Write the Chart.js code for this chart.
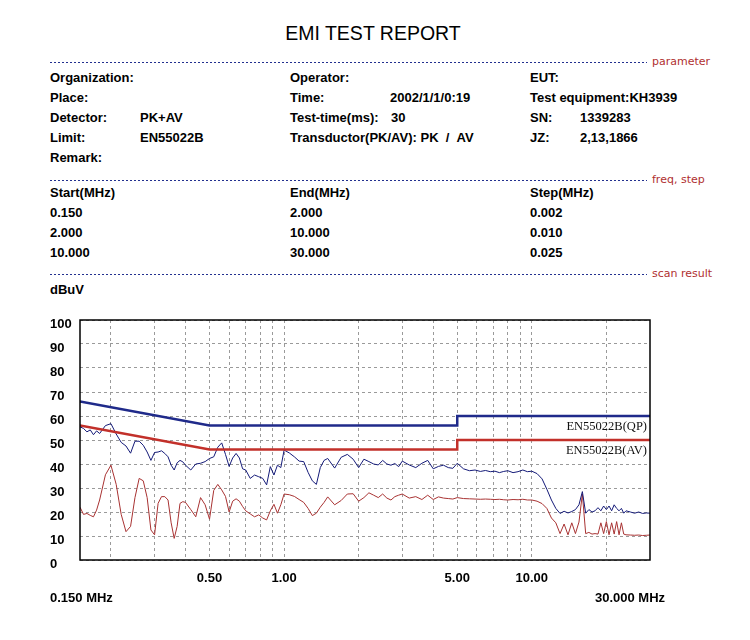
<!DOCTYPE html>
<html>
<head>
<meta charset="utf-8">
<script src="https://cdn.jsdelivr.net/npm/chart.js@4"></script>
<style>
  body { margin: 0; background: #fff; }
  #page { position: relative; width: 750px; height: 640px; overflow: hidden; }
  .t { position: absolute; font: bold 13px "Liberation Sans", Arial, sans-serif; line-height: 16px; white-space: nowrap; color: #000; }
  .title { position: absolute; left: 0; width: 746px; top: 21px; text-align: center; font: 19.5px "Liberation Sans", Arial, sans-serif; line-height: 24px; }
  .dash { position: absolute; left: 50px; width: 597px; height: 1px;
          background: repeating-linear-gradient(to right, #22308f 0 2px, transparent 2px 4px); }
  .sec { position: absolute; left: 652px; font: 11px "DejaVu Sans", sans-serif; line-height: 14px; color: #b03030; white-space: nowrap; }
  #chart { position: absolute; left: 0; top: 300px; }
</style>
</head>
<body>
<div id="page">
  <div class="title">EMI TEST REPORT</div>

  <div class="dash" style="top:62px"></div>
  <div class="sec" style="top:55px">parameter</div>

  <div class="t" style="left:50px;top:70px">Organization:</div>
  <div class="t" style="left:290px;top:70px">Operator:</div>
  <div class="t" style="left:530px;top:70px">EUT:</div>

  <div class="t" style="left:50px;top:90px">Place:</div>
  <div class="t" style="left:290px;top:90px">Time:</div>
  <div class="t" style="left:390px;top:90px">2002/1/1/0:19</div>
  <div class="t" style="left:530px;top:90px">Test equipment:KH3939</div>

  <div class="t" style="left:50px;top:110px">Detector:</div>
  <div class="t" style="left:140px;top:110px">PK+AV</div>
  <div class="t" style="left:290px;top:110px">Test-time(ms):</div>
  <div class="t" style="left:391px;top:110px">30</div>
  <div class="t" style="left:530px;top:110px">SN:</div>
  <div class="t" style="left:580px;top:110px">1339283</div>

  <div class="t" style="left:50px;top:130px">Limit:</div>
  <div class="t" style="left:140px;top:130px">EN55022B</div>
  <div class="t" style="left:290px;top:130px">Transductor(PK/AV): PK &nbsp;/ &nbsp;AV</div>
  <div class="t" style="left:530px;top:130px">JZ:</div>
  <div class="t" style="left:580px;top:130px">2,13,1866</div>

  <div class="t" style="left:50px;top:150px">Remark:</div>

  <div class="dash" style="top:180px"></div>
  <div class="sec" style="top:173px">freq, step</div>

  <div class="t" style="left:50px;top:185px">Start(MHz)</div>
  <div class="t" style="left:290px;top:185px">End(MHz)</div>
  <div class="t" style="left:530px;top:185px">Step(MHz)</div>
  <div class="t" style="left:50px;top:205px">0.150</div>
  <div class="t" style="left:290px;top:205px">2.000</div>
  <div class="t" style="left:530px;top:205px">0.002</div>
  <div class="t" style="left:50px;top:225px">2.000</div>
  <div class="t" style="left:290px;top:225px">10.000</div>
  <div class="t" style="left:530px;top:225px">0.010</div>
  <div class="t" style="left:50px;top:245px">10.000</div>
  <div class="t" style="left:290px;top:245px">30.000</div>
  <div class="t" style="left:530px;top:245px">0.025</div>

  <div class="dash" style="top:274px"></div>
  <div class="sec" style="top:267px">scan result</div>

  <div class="t" style="left:50px;top:282px">dBuV</div>

  <canvas id="chart" width="750" height="340"></canvas>

  <div class="t" style="left:50px;top:590px">0.150 MHz</div>
  <div class="t" style="left:595px;top:590px">30.000 MHz</div>
</div>

<script>
// scan frequencies (MHz)
const freqs = [0.15,0.155,0.16,0.165,0.17,0.175,0.18,
  0.19,0.2,0.21,0.22,0.23,0.24,0.25,0.26,0.27,0.28,0.29,0.3,0.31,0.32,0.33,0.34,0.35,0.36,0.37,0.38,0.39,0.4,
  0.42,0.44,0.46,0.48,0.5,0.52,0.54,0.56,0.58,0.6,0.62,0.64,0.66,0.68,0.7,
  0.73,0.76,0.79,0.82,0.85,0.88,0.91,0.94,0.97,
  1.0,1.05,1.1,1.15,1.2,1.25,1.3,1.35,1.4,1.45,1.5,
  1.6,1.7,1.8,1.9,2.0,2.1,2.2,2.3,2.4,2.5,2.6,2.7,2.8,2.9,3.0,
  3.2,3.4,3.6,3.8,4.0,4.2,4.4,4.6,4.8,5.0,
  5.3,5.6,5.9,6.2,6.5,6.8,7.1,7.4,7.7,8.0,
  8.4,8.8,9.2,9.6,
  10,10.5,11,11.5,12,12.5,13,13.5,14,14.5,15,15.5,
  16,16.5,17,17.5,18,18.5,19,19.5,20,20.5,21,21.5,22,22.5,23,23.5,
  24,25,26,27,28,29,30];

// peak trace (dBuV)
const pkValues = [55.5,54.8,53.4,54.2,52.2,53.8,52.7,
  56,56.8,52.5,49,47.5,44.5,49.5,49.5,47.8,45,41.5,44.8,45,45.5,44.4,43,39.5,37.5,40.5,41.5,40.9,39.5,
  37.5,40,40.3,41,42.3,43,47,48.8,44,39,42.5,44.4,42.5,38,37.5,
  34,35.4,34.7,34,31.3,38.9,35.4,39.5,38.5,
  45.8,44.6,43,41.2,41,36.5,33,31.5,38.5,41.5,42.3,
  38.3,42.8,44,42,38.5,42,41,40,39.6,41.5,40,39.5,40.2,38.9,41.2,
  39.6,38.5,40.3,41.5,38,39,39.5,38.5,38.2,40.3,
  38,37.2,37.5,36.9,37.3,36.8,37,36.4,36.9,37.2,
  36.4,36.8,37.5,36.8,
  37,36,33.8,29.5,25,21.5,19.4,20.3,19.6,20.2,21,23,
  28.5,19.5,21,20,20.5,21.8,20.5,22.5,21,22.5,20.5,23,21.5,20.5,21.5,19.5,
  20.5,20,19.5,20,19.4,19.6,19.5];

// average trace (dBuV)
const avValues = [22,19,19.4,18.6,18,20.8,25,
  35.5,39.5,31.5,19,11.8,14,26,34,33,26,12.5,10.5,23.6,26.4,26.4,25,15.5,9,14,23.6,24.3,24,
  21,18,26,23,17,29,31.5,29.2,26.5,20,24.5,25.5,24.5,22.3,20.5,
  19.2,18,18.8,17.5,16.7,20.5,23.2,19.5,23,
  27.5,27.2,26.5,25.2,24,21.5,18.5,19.5,22,24,26.3,
  23,24.8,27.5,27.6,24.5,26,28,27,26,27.5,25.8,25,26.4,27,27.5,
  25.8,26.4,25.2,27,25.2,26.3,25.8,25.6,25.4,26,
  25.6,25.5,25.4,25.3,25.4,25.3,25.2,25.3,25.1,25,
  25.2,25.1,25.3,25,
  25,24.5,23.5,21.5,17.5,15.5,11,15,10.5,15.5,11,15.8,
  27.5,11,11.5,10.8,11,10.8,15.5,11,16,10.5,15.5,10.8,16,10.5,15.5,10.8,
  10.5,10.4,10.3,10.4,10.2,10.3,10.4];

// EN55022 class B limit corners
const limitFreqs = [0.15, 0.5, 5, 5, 30];
const qpLimit = [66, 56, 56, 60, 60];
const avLimit = [56, 46, 46, 50, 50];

// grid lines and labelled ticks on the frequency axis
const gridFreqs = [0.2,0.3,0.4,0.5,0.6,0.7,0.8,0.9,1,2,3,4,5,6,7,8,9,10,20];
const labelFreqs = [0.5, 1, 5, 10];

const pts = (xs, ys) => xs.map((x, i) => ({ x: x, y: ys[i] }));

const framePlugin = {
  id: 'frame',
  afterDatasetsDraw(chart) {
    const ctx = chart.ctx, a = chart.chartArea, y = chart.scales.y;
    ctx.save();
    ctx.strokeStyle = '#000';
    ctx.lineWidth = 1.5;
    ctx.strokeRect(a.left, a.top, a.right - a.left, a.bottom - a.top);
    ctx.font = '12.5px "Liberation Serif", serif';
    ctx.fillStyle = '#111';
    ctx.textAlign = 'right';
    ctx.textBaseline = 'top';
    ctx.fillText('EN55022B(QP)', a.right - 3, y.getPixelForValue(qpLimit[qpLimit.length - 1]) + 4);
    ctx.fillText('EN55022B(AV)', a.right - 3, y.getPixelForValue(avLimit[avLimit.length - 1]) + 4);
    ctx.restore();
  }
};

const tickFont = { family: '"Liberation Sans", Arial, sans-serif', size: 13, weight: 'bold' };

new Chart(document.getElementById('chart'), {
  type: 'line',
  data: {
    datasets: [
      { data: pts(limitFreqs, qpLimit), borderColor: '#1f2a8a', borderWidth: 2.5 },
      { data: pts(limitFreqs, avLimit), borderColor: '#c2302a', borderWidth: 2.5 },
      { data: pts(freqs, pkValues), borderColor: '#141a78', borderWidth: 1 },
      { data: pts(freqs, avValues), borderColor: '#a83232', borderWidth: 1 }
    ]
  },
  options: {
    responsive: false,
    animation: false,
    events: [],
    elements: { point: { radius: 0 }, line: { tension: 0 } },
    layout: { padding: { left: 50, right: 100, top: 20, bottom: 40 } },
    plugins: { legend: { display: false }, tooltip: { enabled: false } },
    scales: {
      x: {
        type: 'logarithmic',
        min: 0.15,
        max: 30,
        afterBuildTicks: s => { s.ticks = gridFreqs.map(v => ({ value: v })); },
        afterFit: s => { s.height = 40; },
        grid: { color: '#9a9a9a', drawTicks: false },
        border: { display: false, dash: [3, 3] },
        ticks: {
          autoSkip: false,
          maxRotation: 0,
          padding: 11,
          color: '#000',
          font: tickFont,
          callback: v => labelFreqs.includes(v) ? v.toFixed(2) : ''
        }
      },
      y: {
        min: 0,
        max: 100,
        afterFit: s => { s.width = 30; },
        grid: { color: '#9a9a9a', drawTicks: false },
        border: { display: false, dash: [3, 3] },
        ticks: { stepSize: 10, crossAlign: 'far', labelOffset: 4, color: '#000', font: tickFont }
      }
    }
  },
  plugins: [framePlugin]
});
</script>
</body>
</html>
